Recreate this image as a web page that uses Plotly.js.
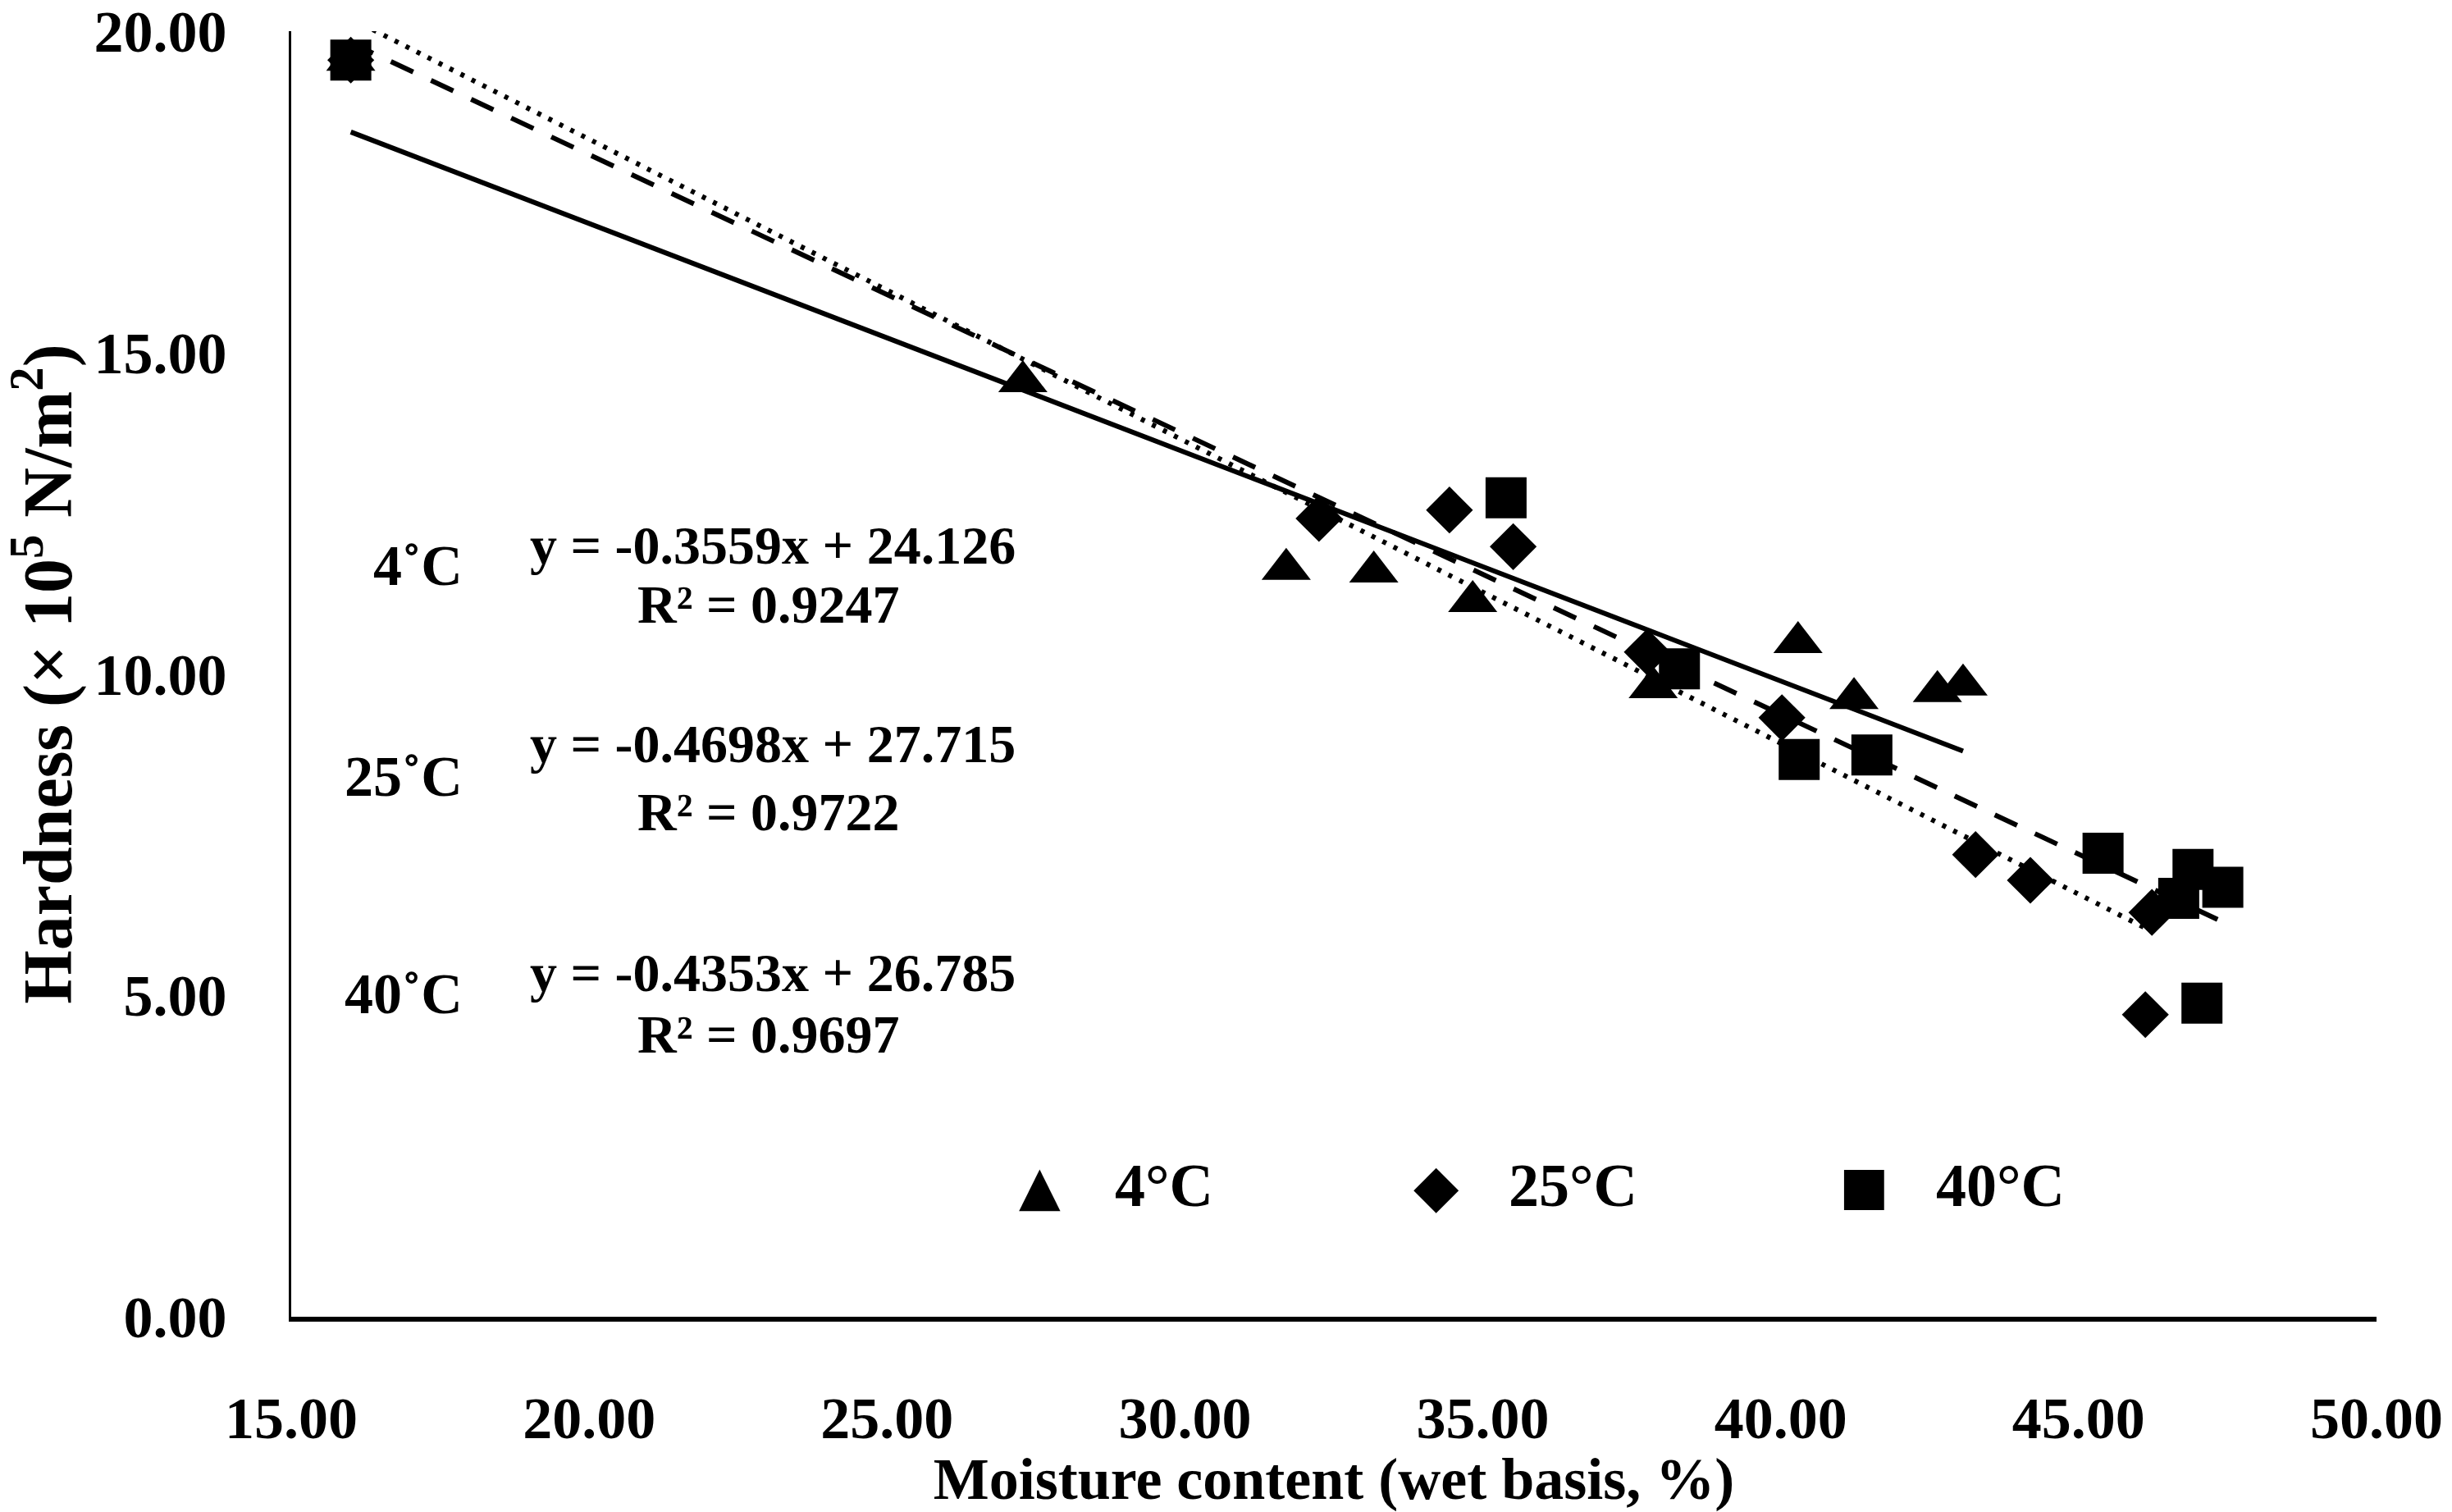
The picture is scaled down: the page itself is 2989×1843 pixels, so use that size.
<!DOCTYPE html>
<html>
<head>
<meta charset="utf-8">
<script src="https://cdn.plot.ly/plotly-3.0.1.min.js"></script>
<style>
  html, body { margin: 0; padding: 0; background: #fff; }
  #chart { width: 2989px; height: 1843px; }
</style>
</head>
<body>
<div id="chart"></div>
<script>
// moisture content (%) and hardness (x10^5 N/m2)
var x4 = [16.0, 27.28, 31.70, 33.17, 34.83, 37.86, 40.29, 41.23, 42.63, 43.06];
var y4 = [19.55, 14.55, 11.63, 11.59, 11.13, 9.79, 10.49, 9.62, 9.73, 9.83];
var x25 = [16.0, 32.25, 34.44, 35.51, 37.76, 40.02, 43.27, 44.19, 46.23, 46.12];
var y25 = [19.55, 12.42, 12.55, 11.98, 10.34, 9.32, 7.19, 6.79, 6.29, 4.70];
var x40 = [16.0, 35.39, 38.30, 40.31, 41.53, 45.41, 46.92, 46.68, 47.42, 47.07];
var y40 = [19.55, 12.74, 10.08, 8.67, 8.74, 7.21, 6.96, 6.51, 6.68, 4.88];

var seriesNames = ['4°C', '25°C', '40°C'];
var labelNames = ['4˚C', '25˚C', '40˚C'];
var slopes = [-0.3559, -0.4698, -0.4353];
var intercepts = [24.126, 27.715, 26.785];
var r2 = ['0.9247', '0.9722', '0.9697'];

var xs = [x4, x25, x40];
var ys = [y4, y25, y40];
var symbols = ['triangle-up', 'diamond', 'square'];
var sizes = [52, 44, 50];
var dashes = ['solid', '5px,10px', '30px,24px'];
var glyphs = ['▲', '◆', '■'];

var font = 'Liberation Serif, Times New Roman, serif';

var traces = [];
// trendlines (Excel linear fit, drawn over the series x span)
for (var i = 0; i < 3; i++) {
  var lo = Math.min.apply(null, xs[i]);
  var hi = Math.max.apply(null, xs[i]);
  traces.push({
    x: [lo, hi],
    y: [slopes[i] * lo + intercepts[i], slopes[i] * hi + intercepts[i]],
    mode: 'lines',
    line: {color: '#000', width: 6, dash: dashes[i]},
    showlegend: false,
    hoverinfo: 'skip'
  });
}
for (var i = 0; i < 3; i++) {
  traces.push({
    x: xs[i],
    y: ys[i],
    name: seriesNames[i],
    type: 'scatter',
    mode: 'markers',
    marker: {symbol: symbols[i], size: sizes[i], color: '#000'},
    showlegend: false
  });
}

var annotations = [];
var labelY = [0.584, 0.420, 0.251];
var eqY = [0.600, 0.446, 0.268];
var rY = [0.554, 0.393, 0.220];
for (var i = 0; i < 3; i++) {
  var b = intercepts[i].toFixed(3);
  annotations.push({xref: 'paper', yref: 'paper', x: 0.083, y: labelY[i], xanchor: 'right', yanchor: 'middle',
    text: '<b>' + labelNames[i] + '</b>', showarrow: false,
    font: {family: font, size: 70, color: '#000'}});
  annotations.push({xref: 'paper', yref: 'paper', x: 0.231, y: eqY[i], xanchor: 'center', yanchor: 'middle',
    text: '<b>y = ' + slopes[i] + 'x + ' + b + '</b>', showarrow: false,
    font: {family: font, size: 66, color: '#000'}});
  annotations.push({xref: 'paper', yref: 'paper', x: 0.229, y: rY[i], xanchor: 'center', yanchor: 'middle',
    text: '<b>R² = ' + r2[i] + '</b>', showarrow: false,
    font: {family: font, size: 66, color: '#000'}});
}
// legend drawn as glyph + label
var keyX = [0.359, 0.549, 0.754];
var keyTextX = [0.394, 0.583, 0.788];
var keySize = [66, 72, 64];
for (var i = 0; i < 3; i++) {
  annotations.push({xref: 'paper', yref: 'paper', x: keyX[i], y: 0.102, xanchor: 'center', yanchor: 'middle',
    text: glyphs[i], showarrow: false, font: {family: 'DejaVu Sans', size: keySize[i], color: '#000'}});
  annotations.push({xref: 'paper', yref: 'paper', x: keyTextX[i], y: 0.102, xanchor: 'left', yanchor: 'middle',
    text: '<b>' + seriesNames[i] + '</b>', showarrow: false, font: {family: font, size: 74, color: '#000'}});
}

var layout = {
  width: 2989,
  height: 1843,
  margin: {l: 355, r: 92, t: 38, b: 238},
  paper_bgcolor: '#fff',
  plot_bgcolor: '#fff',
  font: {family: font, color: '#000'},
  showlegend: false,
  xaxis: {
    range: [15, 50],
    tickvals: [15, 20, 25, 30, 35, 40, 45, 50],
    ticktext: ['15.00', '20.00', '25.00', '30.00', '35.00', '40.00', '45.00', '50.00'],
    showgrid: false,
    zeroline: false,
    showline: true,
    linecolor: '#000',
    linewidth: 6,
    ticks: '',
    ticklabelstandoff: 56,
    ticklabeloverflow: 'allow',
    tickfont: {family: font, size: 72, color: '#000', weight: 'bold'},
    title: {text: '<b>Moisture content (wet basis, %)</b>', font: {family: font, size: 72, color: '#000'}, standoff: 16}
  },
  yaxis: {
    range: [0, 20],
    tickvals: [0, 5, 10, 15, 20],
    ticktext: ['0.00', '5.00', '10.00', '15.00', '20.00'],
    showgrid: false,
    zeroline: false,
    showline: true,
    linecolor: '#000',
    linewidth: 3,
    ticks: '',
    ticklabelstandoff: 61,
    ticklabeloverflow: 'allow',
    tickfont: {family: font, size: 72, color: '#000', weight: 'bold'},
    title: {text: '<b>Hardness (× 10<sup>5</sup> N/m<sup>2</sup>)</b>', font: {family: font, size: 84, color: '#000'}, standoff: 22}
  },
  annotations: annotations
};

Plotly.newPlot('chart', traces, layout, {staticPlot: true});
</script>
</body>
</html>
